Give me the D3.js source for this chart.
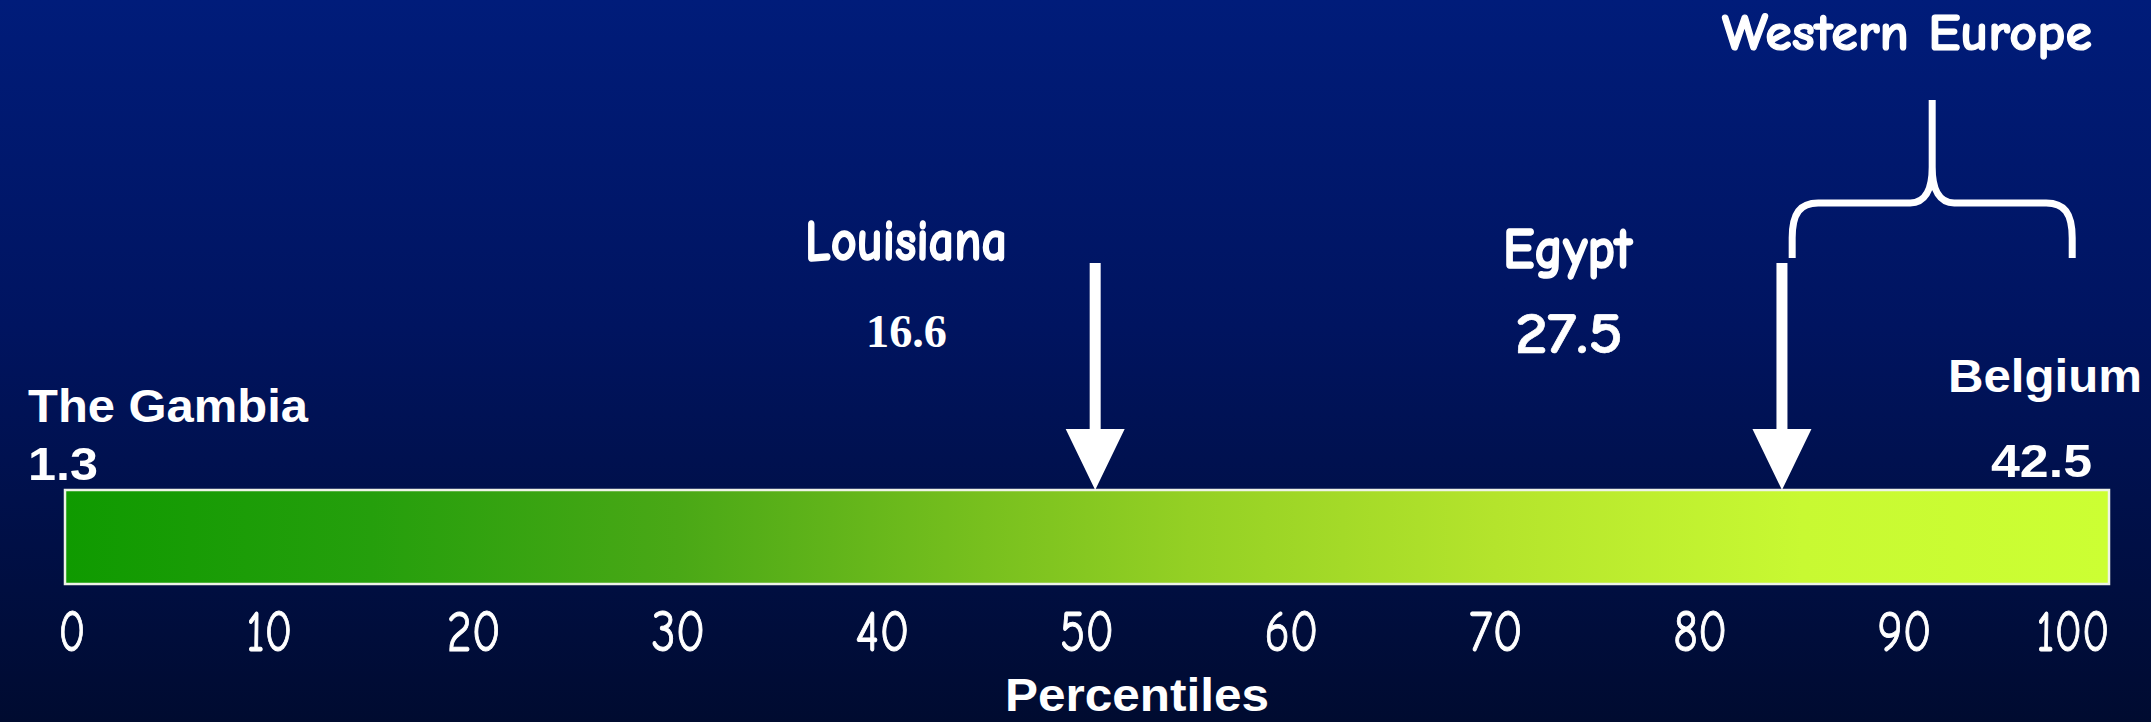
<!DOCTYPE html>
<html>
<head>
<meta charset="utf-8">
<script src="https://cdn.jsdelivr.net/npm/d3@7"></script>
<style>
  html, body { margin: 0; padding: 0; background: #000c33; overflow: hidden; }
  svg { display: block; }
</style>
</head>
<body>
<svg id="chart" width="2151" height="722"></svg>
<script>
// ---------- data ----------
const tickValues = [0, 10, 20, 30, 40, 50, 60, 70, 80, 90, 100];
const axisTitle = "Percentiles";
const arrowNames = ["Louisiana", "Egypt"];
const arrowPercentiles = [50.4, 84];
const arrowValues = ["16.6", "27.5"];
const endNames = ["The Gambia", "Belgium"];
const endValues = ["1.3", "42.5"];
const regionName = "Western Europe";
const regionRange = [84.5, 98.2];

// ---------- setup ----------
const W = 2151, H = 722;
const svg = d3.select("#chart");
const defs = svg.append("defs");

const bg = defs.append("linearGradient").attr("id", "bg")
  .attr("x1", 0).attr("y1", 0).attr("x2", 0).attr("y2", 1);
[[0, "#001c7a"], [0.45, "#001460"], [1, "#000b30"]].forEach(([o, c]) =>
  bg.append("stop").attr("offset", o).attr("stop-color", c));

const barGrad = defs.append("linearGradient").attr("id", "barGrad")
  .attr("x1", 0).attr("y1", 0).attr("x2", 1).attr("y2", 0);
[[0, "#0f9a00"], [0.15, "#259f0c"], [0.3, "#4aa816"], [0.45, "#78c01e"],
 [0.55, "#94d024"], [0.7, "#b4e42c"], [0.85, "#c8f932"], [1, "#ccff33"]]
  .forEach(([o, c]) => barGrad.append("stop").attr("offset", o).attr("stop-color", c));

svg.append("rect").attr("width", W).attr("height", H).attr("fill", "url(#bg)");

const x = d3.scaleLinear().domain([0, 100]).range([65, 2109]);
const barTop = 490, barBottom = 584;

const comic = "'Comic Sans MS','Comic Neue','Lato',sans-serif";
const arial = "Arial,'Liberation Sans',sans-serif";
const times = "'Times New Roman','Liberation Serif',serif";

function txt(s, px, py, family, size, weight, len, sw) {
  const t = svg.append("text")
    .attr("x", px).attr("y", py)
    .attr("fill", "#ffffff")
    .attr("font-family", family)
    .attr("font-size", size)
    .attr("font-weight", weight)
    .text(s);
  if (sw) t.attr("stroke", "#ffffff").attr("stroke-width", sw).attr("stroke-linejoin", "round");
  if (len) t.attr("textLength", len).attr("lengthAdjust", "spacingAndGlyphs");
  return t;
}

// ---------- bar ----------
svg.append("rect")
  .attr("x", x(0)).attr("y", barTop)
  .attr("width", x(100) - x(0)).attr("height", barBottom - barTop)
  .attr("fill", "url(#barGrad)")
  .attr("stroke", "#eef3e6").attr("stroke-width", 2.5);

// ---------- tick labels ----------
const digitW = c => (c === "1" ? 19 : 27);
svg.append("g").selectAll("text").data(tickValues).join("text")
  .attr("x", d => Math.max(72, Math.min(2073, x(d))))
  .attr("y", 651)
  .attr("text-anchor", "middle")
  .attr("fill", "#ffffff")
  .attr("stroke", "#ffffff").attr("stroke-width", 1)
  .attr("font-family", comic)
  .attr("font-size", 58)
  .attr("textLength", d => String(d).split("").reduce((s, c) => s + digitW(c), 0))
  .attr("lengthAdjust", "spacingAndGlyphs")
  .text(d => d);

txt(axisTitle, 1005, 711, arial, 46, "bold", 264);

// ---------- arrows ----------
const shaftTop = 263, headTop = 429, shaftW = 11, headW = 59;
svg.append("g").selectAll("path").data(arrowPercentiles).join("path")
  .attr("d", d => {
    const cx = x(d);
    return `M${cx - shaftW / 2},${shaftTop} L${cx + shaftW / 2},${shaftTop} L${cx + shaftW / 2},${headTop}` +
      ` L${cx + headW / 2},${headTop} L${cx},${barTop} L${cx - headW / 2},${headTop} L${cx - shaftW / 2},${headTop} Z`;
  })
  .attr("fill", "#ffffff");

// ---------- brace ----------
{
  const xl = x(regionRange[0]), xr = x(regionRange[1]), xm = (xl + xr) / 2;
  const yb = 258, yh = 203, ytop = 100;
  const d = `M${xl},${yb} L${xl},${yb - 20} C${xl},${yh + 10} ${xl + 8},${yh} ${xl + 26},${yh}` +
    ` L${xm - 22},${yh} C${xm - 8},${yh} ${xm},${yh - 12} ${xm},${yh - 36} L${xm},${ytop}` +
    ` M${xm},${yh - 36} C${xm},${yh - 12} ${xm + 8},${yh} ${xm + 22},${yh}` +
    ` L${xr - 26},${yh} C${xr - 8},${yh} ${xr},${yh + 10} ${xr},${yb - 20} L${xr},${yb}`;
  svg.append("path").attr("d", d).attr("fill", "none")
    .attr("stroke", "#ffffff").attr("stroke-width", 7);
}

// ---------- labels ----------
txt(regionName, 1722, 50, comic, 52, "bold", 370, 1.2);
txt(arrowNames[0], 805, 260, comic, 58, "bold", 202, 1.5);
txt(arrowValues[0], 866, 347, times, 47, "bold", 81);
txt(arrowNames[1], 1503, 268, comic, 58, "bold", 129, 1.5);
txt(arrowValues[1], 1515, 353, comic, 58, "bold", 108, 0.6);
txt(endNames[0], 28, 422, arial, 46, "bold", 280);
txt(endValues[0], 28, 480, arial, 46, "bold", 70);
txt(endNames[1], 1948, 392, arial, 46, "bold", 194);
txt(endValues[1], 1991, 477, arial, 46, "bold", 101);
</script>
</body>
</html>
